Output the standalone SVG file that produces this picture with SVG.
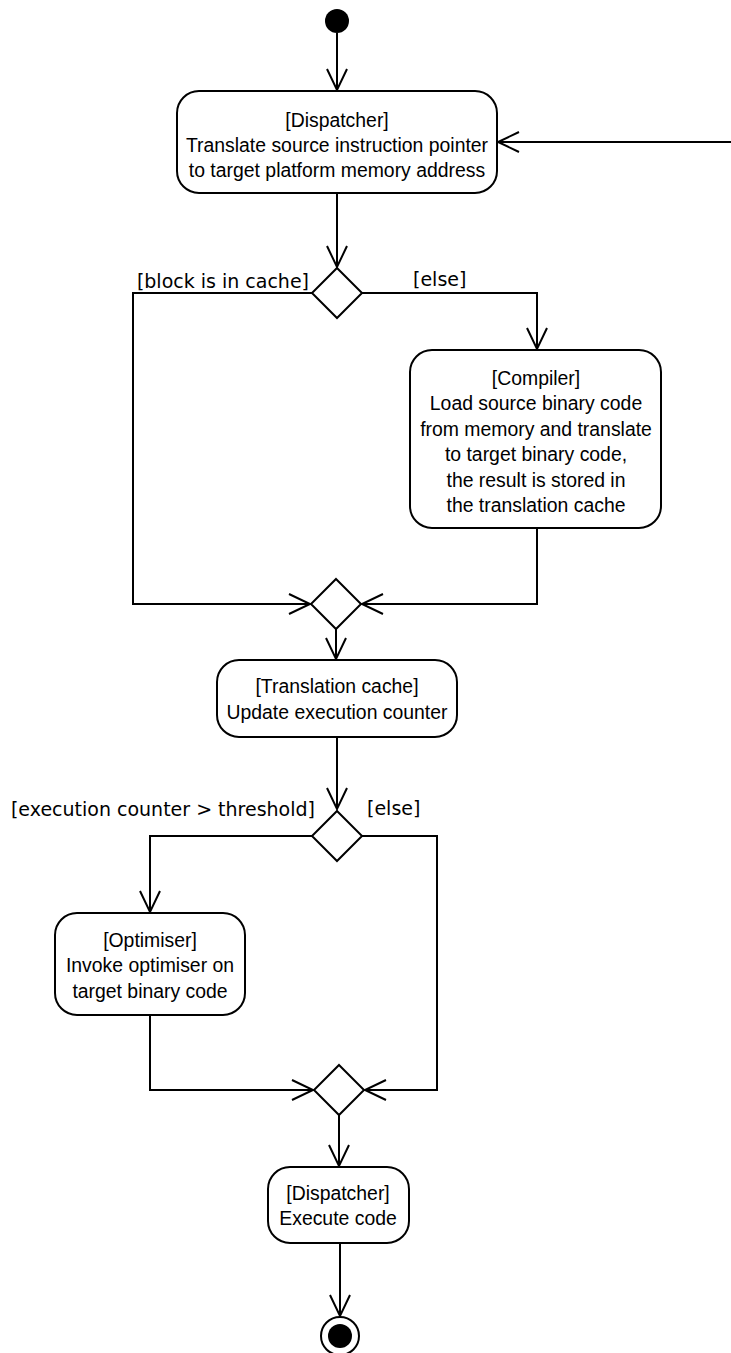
<svg xmlns="http://www.w3.org/2000/svg" width="731" height="1353" viewBox="0 0 731 1353">
<style>
.node rect{fill:#fff;stroke:#000;stroke-width:2}
.node text{font-family:"Liberation Sans",Arial,sans-serif;font-size:19.4px;text-anchor:middle;fill:#000}
.dec{fill:#fff;stroke:#000;stroke-width:2}
.edge{fill:none;stroke:#000;stroke-width:2}
.lbl{font-family:"DejaVu Sans",sans-serif;font-size:19px;fill:#000}
</style>
<defs>
<marker id="arr" markerUnits="userSpaceOnUse" markerWidth="30" markerHeight="30" viewBox="-25 -15 30 30" refX="0" refY="0" orient="auto">
<path d="M-21,-10 L0,0 L-21,10" fill="none" stroke="#000" stroke-width="2"/>
</marker>
</defs>
<rect width="731" height="1353" fill="#fff"/>
<g id="edges">
<path class="edge" d="M337,33 L337,90" marker-end="url(#arr)"/>
<path class="edge" d="M731,142 L498,142" marker-end="url(#arr)"/>
<path class="edge" d="M337,194 L337,267" marker-end="url(#arr)"/>
<path class="edge" d="M312,293 L133,293 L133,604 L310,604" marker-end="url(#arr)"/>
<path class="edge" d="M362,293 L537,293 L537,349" marker-end="url(#arr)"/>
<path class="edge" d="M537,529 L537,604 L362,604" marker-end="url(#arr)"/>
<path class="edge" d="M336,629 L336,659" marker-end="url(#arr)"/>
<path class="edge" d="M337,738 L337,809" marker-end="url(#arr)"/>
<path class="edge" d="M312,836 L150,836 L150,912" marker-end="url(#arr)"/>
<path class="edge" d="M362,836 L437,836 L437,1090 L365,1090" marker-end="url(#arr)"/>
<path class="edge" d="M150,1016 L150,1090 L313,1090" marker-end="url(#arr)"/>
<path class="edge" d="M339,1115 L339,1166" marker-end="url(#arr)"/>
<path class="edge" d="M340,1244 L340,1316" marker-end="url(#arr)"/>
<text class="lbl" x="309" y="288" text-anchor="end">[block is in cache]</text>
<text class="lbl" x="413" y="286">[else]</text>
<text class="lbl" x="315" y="816" text-anchor="end">[execution counter &gt; threshold]</text>
<text class="lbl" x="367" y="815">[else]</text>
</g>
<g id="start"><circle cx="337" cy="21" r="12" fill="#000"/></g>
<g id="dispatch1" class="node">
<rect x="177" y="91" width="320" height="102" rx="22"/>
<text x="337" y="127">[Dispatcher]</text>
<text x="337" y="152">Translate source instruction pointer</text>
<text x="337" y="177">to target platform memory address</text>
</g>
<g id="decision1"><path class="dec" d="M337,268 L362,293 L337,318 L312,293 Z"/></g>
<g id="compiler" class="node">
<rect x="410" y="350" width="251" height="178" rx="22"/>
<text x="536" y="384.5">[Compiler]</text>
<text x="536" y="409.5">Load source binary code</text>
<text x="536" y="435.5">from memory and translate</text>
<text x="536" y="460.5">to target binary code,</text>
<text x="536" y="486.5">the result is stored in</text>
<text x="536" y="511.5">the translation cache</text>
</g>
<g id="merge1"><path class="dec" d="M336,579 L361,604 L336,629 L311,604 Z"/></g>
<g id="tcache" class="node">
<rect x="217" y="660" width="240" height="77" rx="22"/>
<text x="337" y="693">[Translation cache]</text>
<text x="337" y="719">Update execution counter</text>
</g>
<g id="decision2"><path class="dec" d="M337,811 L362,836 L337,861 L312,836 Z"/></g>
<g id="optimiser" class="node">
<rect x="55" y="913" width="190" height="102" rx="22"/>
<text x="150" y="947">[Optimiser]</text>
<text x="150" y="972">Invoke optimiser on</text>
<text x="150" y="998">target binary code</text>
</g>
<g id="merge2"><path class="dec" d="M339,1065 L364,1090 L339,1115 L314,1090 Z"/></g>
<g id="dispatch2" class="node">
<rect x="268" y="1167" width="141" height="76" rx="22"/>
<text x="338" y="1200">[Dispatcher]</text>
<text x="338" y="1225">Execute code</text>
</g>
<g id="end">
<circle cx="340" cy="1336" r="19" fill="#fff" stroke="#000" stroke-width="2"/>
<circle cx="340" cy="1336" r="12" fill="#000"/>
</g>
</svg>
